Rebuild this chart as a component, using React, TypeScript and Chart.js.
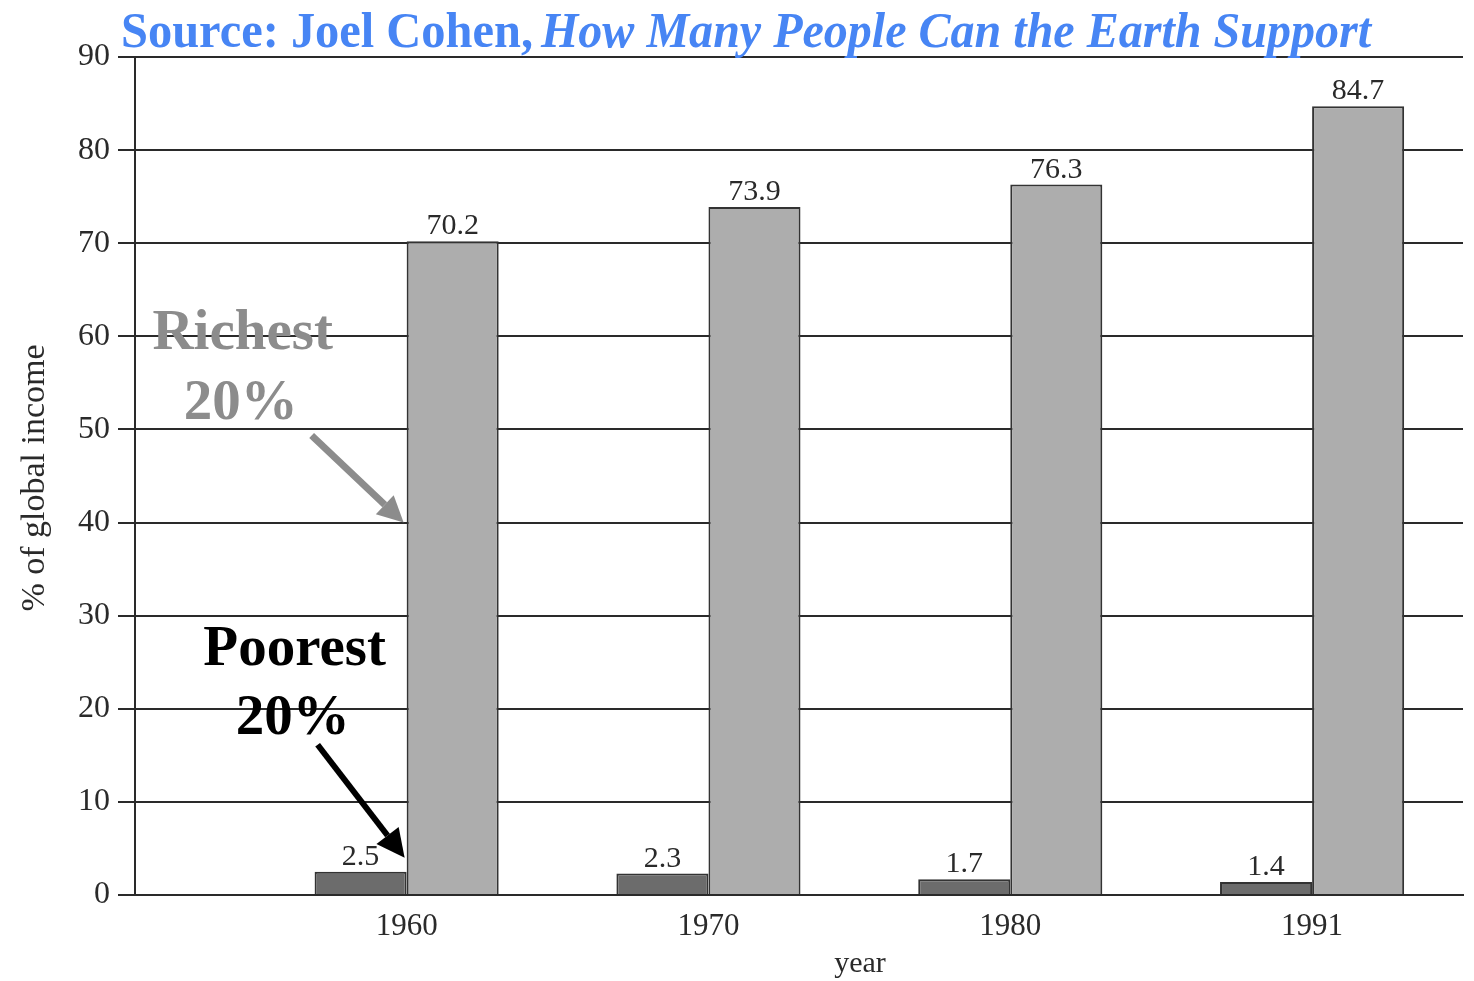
import { useEffect, useRef } from 'react';
import { Chart, registerables } from 'chart.js';

Chart.register(...registerables);

const years = ['1960', '1970', '1980', '1991'];
const poorest = [2.5, 2.3, 1.7, 1.4];
const richest = [70.2, 73.9, 76.3, 84.7];
const yMin = 0;
const yMax = 90;
const yStep = 10;
const titleBold = 'Source: Joel Cohen,';
const titleItalic = 'How Many People Can the Earth Support';
const yTitle = '% of global income';
const xTitle = 'year';
const richLabel = ['Richest', '20%'];
const poorLabel = ['Poorest', '20%'];

const SERIF = '"Liberation Serif", "Times New Roman", serif';
const INK = '#2a2a2a';

function drawArrow(ctx: CanvasRenderingContext2D, x1: number, y1: number, x2: number, y2: number, color: string, lw: number, head: number) {
  const ang = Math.atan2(y2 - y1, x2 - x1);
  const bx = x2 - Math.cos(ang) * head;
  const by = y2 - Math.sin(ang) * head;
  ctx.save();
  ctx.strokeStyle = color;
  ctx.fillStyle = color;
  ctx.lineWidth = lw;
  ctx.lineCap = 'butt';
  ctx.beginPath();
  ctx.moveTo(x1, y1);
  ctx.lineTo(bx, by);
  ctx.stroke();
  const hw = head * 0.5;
  ctx.beginPath();
  ctx.moveTo(x2, y2);
  ctx.lineTo(bx + Math.cos(ang + Math.PI / 2) * hw, by + Math.sin(ang + Math.PI / 2) * hw);
  ctx.lineTo(bx + Math.cos(ang - Math.PI / 2) * hw, by + Math.sin(ang - Math.PI / 2) * hw);
  ctx.closePath();
  ctx.fill();
  ctx.restore();
}

const decorPlugin = {
  id: 'decor',
  afterDatasetsDraw(chart: any) {
    const ctx: CanvasRenderingContext2D = chart.ctx;
    ctx.save();
    ctx.font = `30px ${SERIF}`;
    ctx.fillStyle = INK;
    ctx.textAlign = 'center';
    ctx.textBaseline = 'alphabetic';
    chart.data.datasets.forEach((ds: any, di: number) => {
      const meta = chart.getDatasetMeta(di);
      meta.data.forEach((bar: any, i: number) => {
        const v = ds.data[i].y;
        ctx.fillText(v.toFixed(1), bar.x, bar.y - 7);
      });
    });
    ctx.restore();
  },
  afterDraw(chart: any) {
    const ctx: CanvasRenderingContext2D = chart.ctx;
    const ys = chart.scales.y;
    // Title
    ctx.save();
    ctx.fillStyle = '#4785f4';
    ctx.textBaseline = 'alphabetic';
    ctx.textAlign = 'left';
    ctx.font = `bold 50px ${SERIF}`;
    const w1 = ctx.measureText(titleBold).width;
    ctx.save();
    ctx.translate(121, 47);
    ctx.scale(412 / w1, 1);
    ctx.fillText(titleBold, 0, 0);
    ctx.restore();
    ctx.font = `italic bold 50px ${SERIF}`;
    const w2 = ctx.measureText(titleItalic).width;
    ctx.save();
    ctx.translate(541, 47);
    ctx.scale(830 / w2, 1);
    ctx.fillText(titleItalic, 0, 0);
    ctx.restore();
    ctx.restore();

    // Axis titles
    ctx.save();
    ctx.fillStyle = INK;
    ctx.font = `30px ${SERIF}`;
    ctx.textAlign = 'center';
    ctx.textBaseline = 'middle';
    ctx.fillText(xTitle, 860, 964);
    ctx.font = `34px ${SERIF}`;
    ctx.translate(35, 478);
    ctx.rotate(-Math.PI / 2);
    ctx.fillText(yTitle, 0, 0);
    ctx.restore();

    // Annotations
    const rich0 = chart.getDatasetMeta(1).data[0];
    const poor0 = chart.getDatasetMeta(0).data[0];
    const richLeft = rich0.x - rich0.width / 2;
    const tipR = { x: richLeft - 3, y: ys.getPixelForValue(40) };
    const tipP = { x: richLeft - 2, y: poor0.y - 14 };

    ctx.save();
    ctx.textAlign = 'center';
    ctx.textBaseline = 'middle';
    ctx.font = `bold 57px ${SERIF}`;
    ctx.fillStyle = '#8c8c8c';
    ctx.fillText(richLabel[0], tipR.x - 161, tipR.y - 188);
    ctx.fillText(richLabel[1], tipR.x - 163, tipR.y - 118);
    drawArrow(ctx, tipR.x - 92, tipR.y - 87, tipR.x, tipR.y, '#8c8c8c', 7, 26);
    ctx.fillStyle = '#000';
    ctx.fillText(poorLabel[0], tipP.x - 110, tipP.y - 207);
    ctx.fillText(poorLabel[1], tipP.x - 112, tipP.y - 138);
    drawArrow(ctx, tipP.x - 87, tipP.y - 113, tipP.x, tipP.y, '#000', 6, 28);
    ctx.restore();
  },
};

export default function App() {
  const ref = useRef<HTMLCanvasElement | null>(null);
  useEffect(() => {
    if (!ref.current) return;
    const yTicks: number[] = [];
    for (let v = yMin; v <= yMax; v += yStep) yTicks.push(v);
    const chart = new Chart(ref.current, {
      type: 'bar',
      data: {
        datasets: [
          {
            label: 'Poorest 20%',
            data: poorest.map((v, i) => ({ x: i, y: v })),
            backgroundColor: '#6c6c6c',
            borderColor: '#333',
            borderWidth: 2,
            categoryPercentage: 0.61,
            barPercentage: 1,
          },
          {
            label: 'Richest 20%',
            data: richest.map((v, i) => ({ x: i, y: v })),
            backgroundColor: '#adadad',
            borderColor: '#333',
            borderWidth: 2,
            categoryPercentage: 0.61,
            barPercentage: 1,
          },
        ],
      },
      options: {
        animation: false,
        responsive: true,
        maintainAspectRatio: false,
        layout: { padding: { top: 57, right: 11, left: 0, bottom: 0 } },
        plugins: { legend: { display: false }, tooltip: { enabled: false }, title: { display: false } },
        scales: {
          x: {
            type: 'linear',
            min: -0.9,
            max: 3.5,
            offset: false,
            afterBuildTicks: (s: any) => {
              s.ticks = years.map((_, i) => ({ value: i }));
            },
            afterFit: (s: any) => {
              s.height = 86;
            },
            ticks: {
              callback: (v: any) => years[v] ?? '',
              font: { family: SERIF, size: 31 },
              color: INK,
              padding: 13,
              maxRotation: 0,
              autoSkip: false,
            },
            grid: { display: false, drawTicks: false },
            border: { display: true, color: '#2a2a2a', width: 2 },
          },
          y: {
            min: yMin,
            max: yMax,
            afterBuildTicks: (s: any) => {
              s.ticks = yTicks.map((v) => ({ value: v }));
            },
            afterFit: (s: any) => {
              s.width = 135;
            },
            ticks: {
              font: { family: SERIF, size: 32 },
              color: INK,
              padding: 8,
            },
            grid: { color: '#2a2a2a', lineWidth: 2, tickLength: 17, drawTicks: true },
            border: { display: true, color: '#2a2a2a', width: 2 },
          },
        },
      },
      plugins: [decorPlugin],
    });
    return () => chart.destroy();
  }, []);
  return (
    <div style={{ position: 'absolute', left: 0, top: 0, width: 1474, height: 981, background: '#fff' }}>
      <canvas ref={ref} />
    </div>
  );
}
